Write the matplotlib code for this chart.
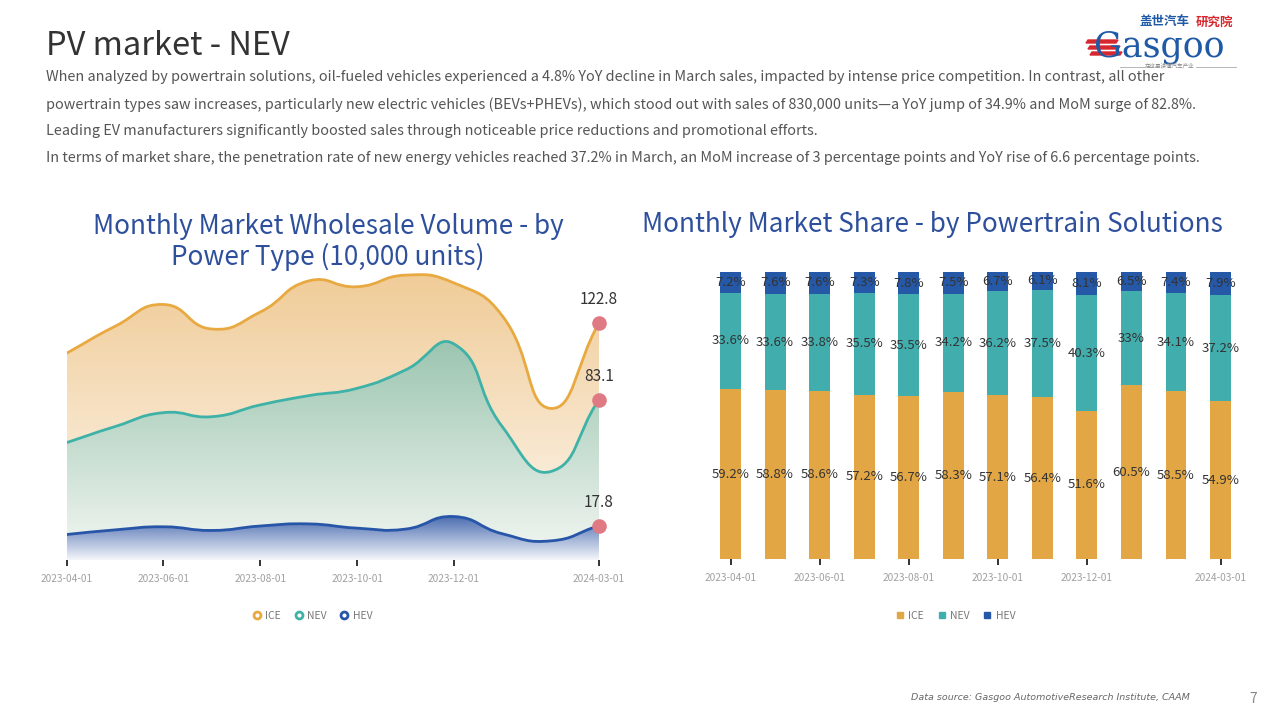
import numpy as np
import matplotlib
matplotlib.use("Agg")
import matplotlib.pyplot as plt
from matplotlib.path import Path
from matplotlib.patches import PathPatch, Polygon
from matplotlib.lines import Line2D

plt.rcParams['font.family'] = ['Noto Sans CJK SC', 'DejaVu Sans']

# data
months = ['2023-04-01', '2023-05-01', '2023-06-01', '2023-07-01', '2023-08-01', '2023-09-01',
          '2023-10-01', '2023-11-01', '2023-12-01', '2024-01-01', '2024-02-01', '2024-03-01']
shown_ticks = [0, 2, 4, 6, 8, 11]

# wholesale volume, 10,000 units
ice_vol = [107.1, 121.0, 132.3, 119.6, 128.4, 144.5, 141.5, 147.5, 143.5, 126.5, 78.5, 122.8]
nev_vol = [60.8, 69.1, 76.3, 74.2, 80.3, 85.1, 88.9, 98.4, 111.9, 69.1, 45.8, 83.1]
hev_vol = [13.2, 15.6, 17.2, 15.3, 17.6, 18.7, 16.5, 16.0, 22.5, 13.6, 9.9, 17.8]

# market share, %
ice_share = [59.2, 58.8, 58.6, 57.2, 56.7, 58.3, 57.1, 56.4, 51.6, 60.5, 58.5, 54.9]
nev_share = [33.6, 33.6, 33.8, 35.5, 35.5, 34.2, 36.2, 37.5, 40.3, 33, 34.1, 37.2]
hev_share = [7.2, 7.6, 7.6, 7.3, 7.8, 7.5, 6.7, 6.1, 8.1, 6.5, 7.4, 7.9]

ICE_C, NEV_C, HEV_C = '#e8a940', '#3fb2a8', '#2755a8'
BAR_ICE, BAR_NEV, BAR_HEV = '#e2a744', '#42adad', '#2558a7'
TITLE_C = '#2d4f9c'

W, H = 1280, 720
fig = plt.figure(figsize=(12.8, 7.2), dpi=100)


def fx(x):
    return x / W


def fy(y):
    return 1 - y / H


# ---- header ----
fig.text(fx(46), fy(55), 'PV market - NEV', fontsize=23.5, color='#333333',
         fontweight='light', va='baseline')
body = [
    "When analyzed by powertrain solutions, oil-fueled vehicles experienced a 4.8% YoY decline in March sales, impacted by intense price competition. In contrast, all other",
    "powertrain types saw increases, particularly new electric vehicles (BEVs+PHEVs), which stood out with sales of 830,000 units\u2014a YoY jump of 34.9% and MoM surge of 82.8%.",
    "Leading EV manufacturers significantly boosted sales through noticeable price reductions and promotional efforts.",
    "In terms of market share, the penetration rate of new energy vehicles reached 37.2% in March, an MoM increase of 3 percentage points and YoY rise of 6.6 percentage points.",
]
for i, line in enumerate(body):
    fig.text(fx(46), fy(77.5 + i * 26.7), line, fontsize=10.4, color='#555555',
             fontweight='light', va='center')

# logo
fig.text(fx(1140), fy(22), '盖世汽车', fontsize=9, color='#1f5aa6', fontweight='bold',
         ha='left', va='center')
fig.text(fx(1233), fy(22), '研究院', fontsize=9, color='#d7282f', fontweight='bold',
         ha='right', va='center')
fig.text(fx(1094), fy(56), 'Gasgoo', fontsize=25, color='#1f5aa6', family='DejaVu Serif',
         va='baseline')
for k, yy in enumerate([43, 49, 55]):
    x0 = 1086 + k * 2
    fig.patches.append(Polygon([(fx(x0), fy(yy)), (fx(x0 + 30), fy(yy)),
                                (fx(x0 + 32), fy(yy - 3)), (fx(x0 + 2), fy(yy - 3))],
                               closed=True, transform=fig.transFigure, color='#d7282f'))
fig.add_artist(Line2D([fx(1120), fx(1145)], [fy(67), fy(67)], color='#aaaaaa', lw=0.6,
                      transform=fig.transFigure))
fig.add_artist(Line2D([fx(1196), fx(1236)], [fy(67), fy(67)], color='#aaaaaa', lw=0.6,
                      transform=fig.transFigure))
fig.text(fx(1170), fy(66), '在这里读懂汽车产业', fontsize=4, color='#888888', ha='center',
         va='center')

# footer
fig.text(fx(1190), fy(698), 'Data source: Gasgoo AutomotiveResearch Institute, CAAM',
         fontsize=6.8, color='#666666', style='italic', ha='right', va='center',
         family=['DejaVu Sans'])
fig.text(fx(1253), fy(699), '7', fontsize=10, color='#888888', ha='center', va='center')

# ---- chart titles ----
fig.text(fx(328), fy(226), 'Monthly Market Wholesale Volume - by', fontsize=18.8, color=TITLE_C,
         ha='center', va='center')
fig.text(fx(328), fy(257), 'Power Type (10,000 units)', fontsize=18.8, color=TITLE_C,
         ha='center', va='center')
fig.text(fx(932), fy(225), 'Monthly Market Share - by Powertrain Solutions', fontsize=18.8,
         color=TITLE_C, ha='center', va='center')


# ---- left: smoothed area chart ----
def smooth_path(xs, ys, sx, sy, smooth=0.5):
    pts = np.column_stack([np.asarray(xs, float) * sx, np.asarray(ys, float) * sy])
    n = len(pts)
    cin, cout = [], []
    for i in range(n):
        prev = pts[i - 1] if i > 0 else pts[i]
        nxt = pts[i + 1] if i < n - 1 else pts[i]
        v = (nxt - prev) * smooth
        d0 = np.hypot(*(pts[i] - prev))
        d1 = np.hypot(*(nxt - pts[i]))
        s = d0 + d1
        if s > 0:
            d0, d1 = d0 / s, d1 / s
        cin.append(pts[i] - v * d0)
        cout.append(pts[i] + v * d1)
    verts = [pts[0]]
    codes = [Path.MOVETO]
    for i in range(n - 1):
        verts += [cout[i], cin[i + 1], pts[i + 1]]
        codes += [Path.CURVE4] * 3
    verts = np.array(verts)
    verts[:, 0] /= sx
    verts[:, 1] /= sy
    return verts, codes


ax1 = fig.add_axes([fx(66.7), fy(560), fx(599) - fx(66.7), fy(251) - fy(560)])
x = np.arange(len(months))
ymax = 160
px_x = 532.3 / 11
px_y = 309 / ymax


def hex2rgb(h):
    return np.array(matplotlib.colors.to_rgb(h))


def draw_series(vals, line_c, top_c, bot_c, z):
    verts, codes = smooth_path(x, vals, px_x, px_y)
    line = Path(verts, codes)
    ax1.add_patch(PathPatch(line, fill=False, edgecolor=line_c, lw=2.0, zorder=z + 1,
                            capstyle='round'))
    area_v = np.vstack([verts, [[x[-1], 0], [x[0], 0], [x[0], 0]]])
    area_c = codes + [Path.LINETO, Path.LINETO, Path.CLOSEPOLY]
    patch = PathPatch(Path(area_v, area_c), facecolor='none', edgecolor='none')
    ax1.add_patch(patch)
    t = np.linspace(0, 1, 256)[:, None]
    grad = bot_c + (top_c - bot_c) * t
    img = grad[:, None, :]
    im = ax1.imshow(img, extent=[x[0], x[-1], 0, max(vals)], origin='lower',
                    aspect='auto', zorder=z, interpolation='bilinear')
    im.set_clip_path(patch)


draw_series(ice_vol, ICE_C, hex2rgb('#f0cc98'), hex2rgb('#fdf8f1'), 1)
draw_series(nev_vol, NEV_C, hex2rgb('#9cc6b1'), hex2rgb('#f4f7f3'), 3)
draw_series(hev_vol, HEV_C, hex2rgb('#4a6cb0'), hex2rgb('#f4f6fa'), 5)

for vals in (ice_vol, nev_vol, hev_vol):
    ax1.plot(x[-1], vals[-1], 'o', ms=9.5, color='#df7a84', zorder=10, clip_on=False)
    ax1.annotate(f'{vals[-1]}', (x[-1], vals[-1]), xytext=(0, 16.5), textcoords='offset points',
                 ha='center', va='center', fontsize=11, color='#333333', zorder=11)

ax1.set_xlim(0, 11)
ax1.set_ylim(0, ymax)
ax1.set_xticks(shown_ticks)
ax1.set_xticklabels([months[i] for i in shown_ticks])
ax1.set_yticks([])
ax1.tick_params(axis='x', length=4, width=1.4, color='#333333', labelcolor='#a0a0a0',
                labelsize=7.3, pad=6)
for s in ax1.spines.values():
    s.set_visible(False)
ax1.patch.set_alpha(0)

h1 = [Line2D([], [], ls='none', marker='o', ms=5, mfc='white', mec=c, mew=2)
      for c in (ICE_C, NEV_C, HEV_C)]
fig.legend(h1, ['ICE', 'NEV', 'HEV'], loc='center', bbox_to_anchor=(fx(312), fy(616)),
           ncol=3, frameon=False, fontsize=7.5, labelcolor='#777777', handletextpad=0.3,
           columnspacing=1.2, handlelength=1.0)

# ---- right: 100% stacked bars ----
ax2 = fig.add_axes([fx(708.3), fy(559), fx(1242.8) - fx(708.3), fy(272) - fy(559)])
bw = 0.47
ice_s = np.array(ice_share)
nev_s = np.array(nev_share)
hev_s = np.array(hev_share)
ax2.bar(x, ice_s, bw, color=BAR_ICE)
ax2.bar(x, nev_s, bw, bottom=ice_s, color=BAR_NEV)
ax2.bar(x, hev_s, bw, bottom=ice_s + nev_s, color=BAR_HEV)
for i in x:
    ax2.text(i, ice_s[i] / 2, f'{ice_s[i]:g}%', ha='center', va='center', fontsize=9.5,
             color='#333333')
    ax2.text(i, ice_s[i] + nev_s[i] / 2, f'{nev_s[i]:g}%', ha='center', va='center',
             fontsize=9.5, color='#333333')
    ax2.text(i, ice_s[i] + nev_s[i] + hev_s[i] / 2, f'{hev_s[i]:g}%', ha='center',
             va='center', fontsize=9.5, color='#333333')
ax2.set_xlim(-0.5, 11.5)
ax2.set_ylim(0, 100)
ax2.set_xticks(shown_ticks)
ax2.set_xticklabels([months[i] for i in shown_ticks])
ax2.set_yticks([])
ax2.tick_params(axis='x', length=4, width=1.4, color='#333333', labelcolor='#a0a0a0',
                labelsize=7.3, pad=6)
for s in ax2.spines.values():
    s.set_visible(False)

h2 = [Line2D([], [], ls='none', marker='s', ms=5, color=c) for c in (BAR_ICE, BAR_NEV, BAR_HEV)]
fig.legend(h2, ['ICE', 'NEV', 'HEV'], loc='center', bbox_to_anchor=(fx(955), fy(616)),
           ncol=3, frameon=False, fontsize=7.5, labelcolor='#777777', handletextpad=0.3,
           columnspacing=1.2, handlelength=1.0)

fig.savefig('out.png', dpi=100, facecolor='white')
